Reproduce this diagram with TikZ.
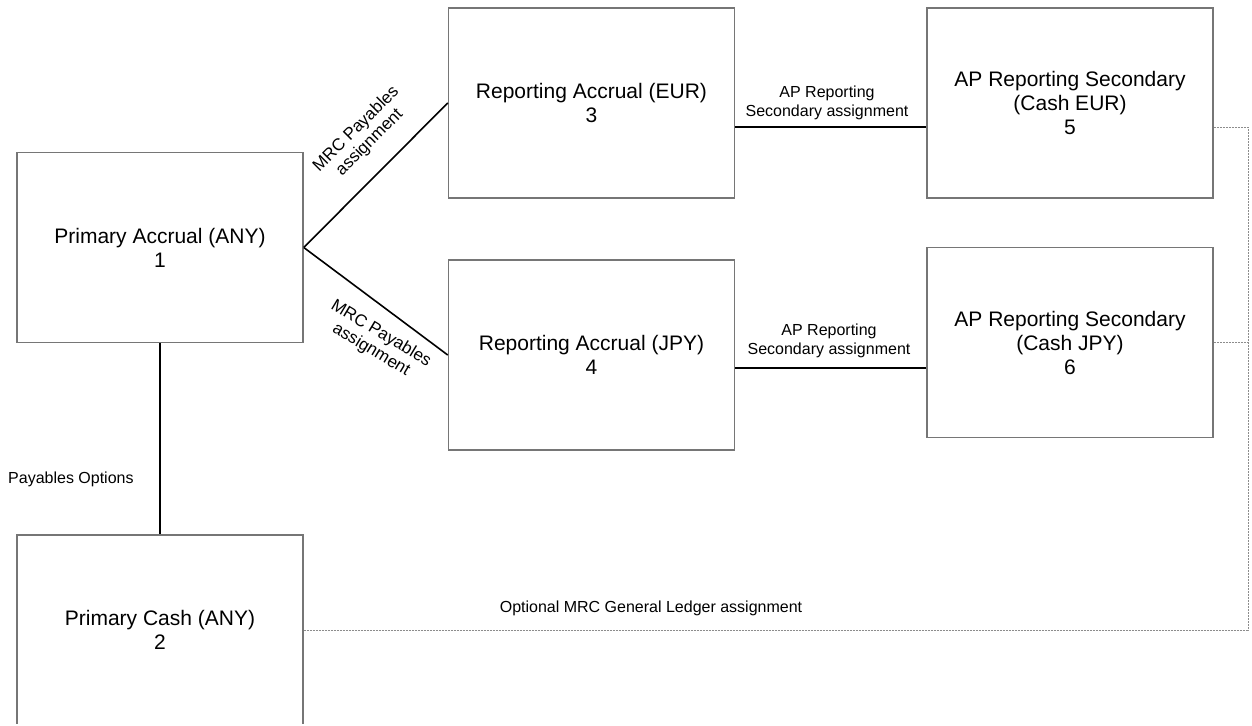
\documentclass[tikz,border=0pt]{standalone}
\usepackage{fontspec}
\setmainfont{Liberation Sans}
\begin{document}
\begin{tikzpicture}[x=1pt,y=-1pt,
  ledger/.style={draw={rgb,255:red,118;green,118;blue,118}, line width=1.5pt,
    minimum width=286pt, minimum height=190pt, inner sep=0pt, align=center,
    font=\fontsize{21}{24}\selectfont},
  link/.style={draw=black, line width=1.6pt},
  optlink/.style={draw={rgb,255:red,140;green,140;blue,140}, line width=1pt,
    dash pattern=on 2pt off 1pt},
  lbl/.style={align=center, inner sep=0pt, font=\fontsize{16}{19}\selectfont},
  slantlbl/.style={lbl, font=\fontsize{17}{19}\selectfont}]
\useasboundingbox (0,0) rectangle (1252,725);
\clip (0,0) rectangle (1252,723.5);

% ledgers
\node[ledger] (b1) at (160,247.5) {Primary Accrual (ANY)\\1};
\node[ledger] (b2) at (160,630) {Primary Cash (ANY)\\2};
\node[ledger] (b3) at (591.5,103) {Reporting Accrual (EUR)\\3};
\node[ledger] (b4) at (591.5,355) {Reporting Accrual (JPY)\\4};
\node[ledger] (b5) at (1070,103) {AP Reporting Secondary\\(Cash EUR)\\5};
\node[ledger] (b6) at (1070,342.5) {AP Reporting Secondary\\(Cash JPY)\\6};

% assignments
\draw[link] (b1.east) -- (b3.west);
\draw[link] (b1.east) -- (b4.west);
\draw[link] (b1.south) -- (b2.north);
\draw[link] ([yshift=-24pt]b3.east) -- ([yshift=-24pt]b5.west);
\draw[link] ([yshift=-13pt]b4.east) -- ([yshift=-13pt]b4.east -| b6.west);

% optional general ledger assignment
\coordinate (rt) at (1248,127);
\draw[optlink] ([yshift=-24pt]b5.east) -- (rt) |- (b2.east);
\draw[optlink] (b6.east) -- (b6.east -| rt);

% labels
\node[slantlbl, rotate=45] (l1) at (363,136) {MRC Payables\\assignment};
\node[slantlbl, rotate=-31] (l2) at (376,342) {MRC Payables\\assignment};
\node[lbl] (l3) at (827,103) {AP Reporting\\Secondary assignment};
\node[lbl] (l4) at (829,341) {AP Reporting\\Secondary assignment};
\node[lbl, anchor=west] (l5) at (8,479) {Payables Options};
\node[lbl] (l6) at (651,608) {Optional MRC General Ledger assignment};
\end{tikzpicture}
\end{document}
